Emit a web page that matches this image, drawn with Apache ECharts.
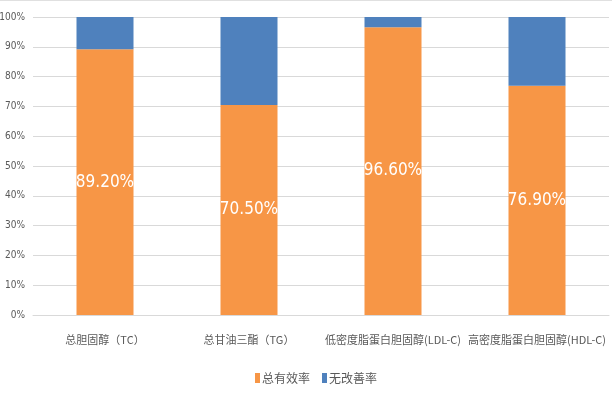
<!DOCTYPE html>
<html><head><meta charset="utf-8">
<script src="https://cdn.jsdelivr.net/npm/echarts@6/dist/echarts.min.js"></script>
<style>html,body{margin:0;padding:0;background:#fff}#c{width:612px;height:394px}</style>
</head><body><div id="c"></div>
<script>
const categories = ['总胆固醇（TC）', '总甘油三酯（TG）', '低密度脂蛋白胆固醇(LDL-C)', '高密度脂蛋白胆固醇(HDL-C)'];
const effective = [89.2, 70.5, 96.6, 76.9];
const noImprove = [10.8, 29.5, 3.4, 23.1];
const seriesNames = ['总有效率', '无改善率'];

const chart = echarts.init(document.getElementById('c'));
const narrow = '"DejaVu Sans Condensed", "Liberation Sans Narrow", Roboto, sans-serif';
chart.setOption({
  animation: false,
  graphic: [{ type: 'line', shape: { x1: 0, y1: 0.5, x2: 612, y2: 0.5 }, style: { stroke: '#E0E0E0', lineWidth: 1 } }],
  grid: { left: 33, right: 3, top: 17, bottom: 79, outerBoundsMode: 'none', containLabel: false },
  legend: {
    data: seriesNames, bottom: 5, left: 250,
    itemWidth: 5, itemHeight: 10, itemGap: 12,
    textStyle: { color: '#595959', fontSize: 12, fontFamily: '"Noto Sans CJK SC", sans-serif', padding: [0, 0, 0, -3] },
    icon: 'rect'
  },
  xAxis: {
    type: 'category', data: categories,
    axisTick: { show: false },
    axisLine: { lineStyle: { color: '#D9D9D9' } },
    axisLabel: { color: '#595959', fontSize: 11, margin: 19, interval: 0, fontFamily: '"Noto Sans CJK SC", sans-serif' }
  },
  yAxis: {
    type: 'value', min: 0, max: 100, interval: 10,
    axisLabel: { formatter: '{value}%', color: '#595959', fontSize: 10, margin: 8, fontFamily: narrow },
    splitLine: { lineStyle: { color: '#D9D9D9' } },
    axisLine: { show: false }, axisTick: { show: false }
  },
  series: [
    { name: seriesNames[0], type: 'bar', stack: 'a', data: effective, barWidth: 57,
      itemStyle: { color: '#F79646' },
      label: { show: true, position: 'inside', color: '#fff', fontSize: 17, fontFamily: narrow,
        formatter: p => p.value.toFixed(2) + '%' } },
    { name: seriesNames[1], type: 'bar', stack: 'a', data: noImprove, barWidth: 57,
      itemStyle: { color: '#4F81BD' } }
  ]
});
</script></body></html>
